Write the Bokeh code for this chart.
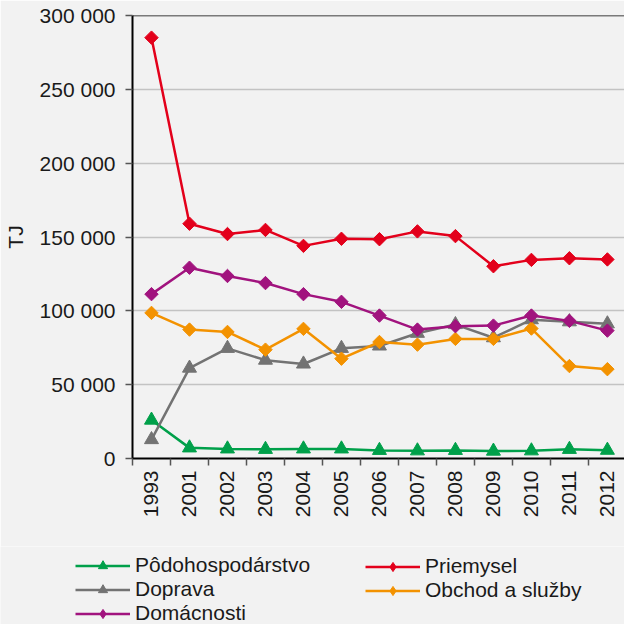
import math
from bokeh.plotting import figure
from bokeh.models import (FixedTicker, Span, Legend, LegendItem, Range1d)
from bokeh.embed import file_html
from bokeh.resources import INLINE

years = ["1993", "2001", "2002", "2003", "2004", "2005", "2006",
         "2007", "2008", "2009", "2010", "2011", "2012"]

podohospodarstvo = [26000, 7200, 6500, 6200, 6500, 6500, 5500, 5200, 5500, 5000, 5200, 6200, 5600]
priemysel = [285000, 159000, 152000, 154800, 144000, 148800, 148500, 153800, 150600, 130200, 134500, 135600, 134800]
doprava = [12800, 61200, 74600, 66600, 64000, 74600, 76200, 84800, 90700, 81800, 94000, 92600, 91200]
obchod = [98600, 87300, 85700, 73700, 87800, 67600, 78900, 77100, 81000, 81000, 88000, 62600, 60500]
domacnosti = [111300, 129200, 123600, 118800, 111300, 106100, 96800, 87300, 89600, 90000, 96800, 93200, 86600]

series_names = ["Pôdohospodárstvo", "Priemysel", "Doprava", "Obchod a služby", "Domácnosti"]
series_colors = ["#00a04a", "#e3001b", "#737373", "#f39200", "#a1137e"]

y_ticks = [0, 50000, 100000, 150000, 200000, 250000, 300000]
y_tick_labels = ["0", "50 000", "100 000", "150 000", "200 000", "250 000", "300 000"]
y_label = "TJ"

BG = "#f2f2f2"
FONT = "Liberation Sans"
TXT = "#1a1a1a"
FS = "21px"

x = list(range(len(years)))
all_series = [podohospodarstvo, priemysel, doprava, obchod, domacnosti]
markers = ["triangle", "diamond", "triangle", "diamond", "diamond"]

p = figure(width=624, height=546, output_backend="svg", toolbar_location=None,
           x_range=Range1d(-0.5, len(years) - 0.55),
           y_range=Range1d(y_ticks[0], y_ticks[-1]),
           min_border_left=128, min_border_right=0, min_border_top=15,
           min_border_bottom=88)
p.background_fill_color = BG
p.border_fill_color = BG
p.outline_line_color = None

# grid
p.xgrid.visible = False
p.ygrid.ticker = FixedTicker(ticks=y_ticks[1:-1])
p.ygrid.grid_line_color = "#c3c3c3"
p.ygrid.grid_line_width = 1.5
p.add_layout(Span(location=y_ticks[-1], dimension="width", line_color="black", line_width=1.5))

# x axis
xa = p.xaxis[0]
xa.ticker = FixedTicker(ticks=x, minor_ticks=[i - 0.5 for i in x])
xa.major_label_overrides = {i: years[i] for i in x}
xa.major_label_orientation = math.pi / 2
xa.major_tick_out = 0
xa.major_tick_in = 0
xa.minor_tick_out = 7
xa.minor_tick_in = 0
xa.minor_tick_line_color = "#555555"
xa.minor_tick_line_width = 1.5
xa.axis_line_color = "black"
xa.axis_line_width = 2
xa.major_label_standoff = 5
xa.major_label_text_font = FONT
xa.major_label_text_font_size = FS
xa.major_label_text_color = TXT

# y axis
ya = p.yaxis[0]
ya.ticker = FixedTicker(ticks=y_ticks)
ya.major_label_overrides = {t: l for t, l in zip(y_ticks, y_tick_labels)}
ya.major_tick_out = 7
ya.major_tick_in = 0
ya.minor_tick_out = 0
ya.minor_tick_in = 0
ya.major_tick_line_color = "#555555"
ya.major_tick_line_width = 1.5
ya.axis_line_color = "black"
ya.axis_line_width = 2
ya.major_label_standoff = 10
ya.major_label_text_font = FONT
ya.major_label_text_font_size = FS
ya.major_label_text_color = TXT
ya.axis_label = y_label
ya.axis_label_text_font = FONT
ya.axis_label_text_font_size = FS
ya.axis_label_text_font_style = "normal"
ya.axis_label_text_color = TXT
ya.axis_label_standoff = 10


def add_series(fig, xs, ys, col, mk, legend_sample=False):
    lr = fig.line(xs, ys, line_color=col, line_width=2.5)
    if mk == "triangle":
        sr = fig.scatter(xs, ys, marker="triangle", size=14, fill_color=col, line_color=col)
    elif legend_sample:
        sr = fig.scatter(xs, ys, marker="diamond", size=14, fill_color=col, line_color=col)
    else:
        sr = fig.scatter(xs, ys, marker="square", angle=math.pi / 4, size=9.5,
                         fill_color=col, line_color=col)
    return lr, sr


for vals, col, mk in zip(all_series, series_colors, markers):
    add_series(p, x, vals, col, mk)

# Legend panel: a second figure whose view window lies outside the data,
# so its renderers only serve as legend samples.
lf = figure(width=624, height=78, output_backend="svg", toolbar_location=None,
            x_axis_location=None, y_axis_location=None,
            x_range=Range1d(-0.5, len(years) - 0.55), y_range=Range1d(-2, -1),
            min_border=0, min_border_left=0, min_border_right=0,
            min_border_top=0, min_border_bottom=0)
lf.background_fill_color = BG
lf.border_fill_color = BG
lf.outline_line_color = None
lf.grid.visible = False

items = []
for name, vals, col, mk in zip(series_names, all_series, series_colors, markers):
    lr, sr = add_series(lf, x, vals, col, mk, legend_sample=True)
    items.append(LegendItem(label=name, renderers=[lr, sr]))


def make_legend(its, loc):
    lg = Legend(items=its, location=loc, orientation="vertical")
    lg.background_fill_alpha = 0
    lg.border_line_color = None
    lg.padding = 0
    lg.margin = 0
    lg.spacing = 0
    lg.glyph_width = 55
    lg.glyph_height = 23
    lg.label_height = 23
    lg.label_standoff = 5
    lg.label_text_font = FONT
    lg.label_text_font_size = FS
    lg.label_text_color = TXT
    lg.label_text_baseline = "middle"
    return lg


leg1 = make_legend([items[0], items[2], items[4]], (75, -1))
leg2 = make_legend([items[1], items[3]], (365, 22))
lf.add_layout(leg1, "center")
lf.add_layout(leg2, "center")

open("out.html", "w").write(file_html([p, lf], INLINE))
